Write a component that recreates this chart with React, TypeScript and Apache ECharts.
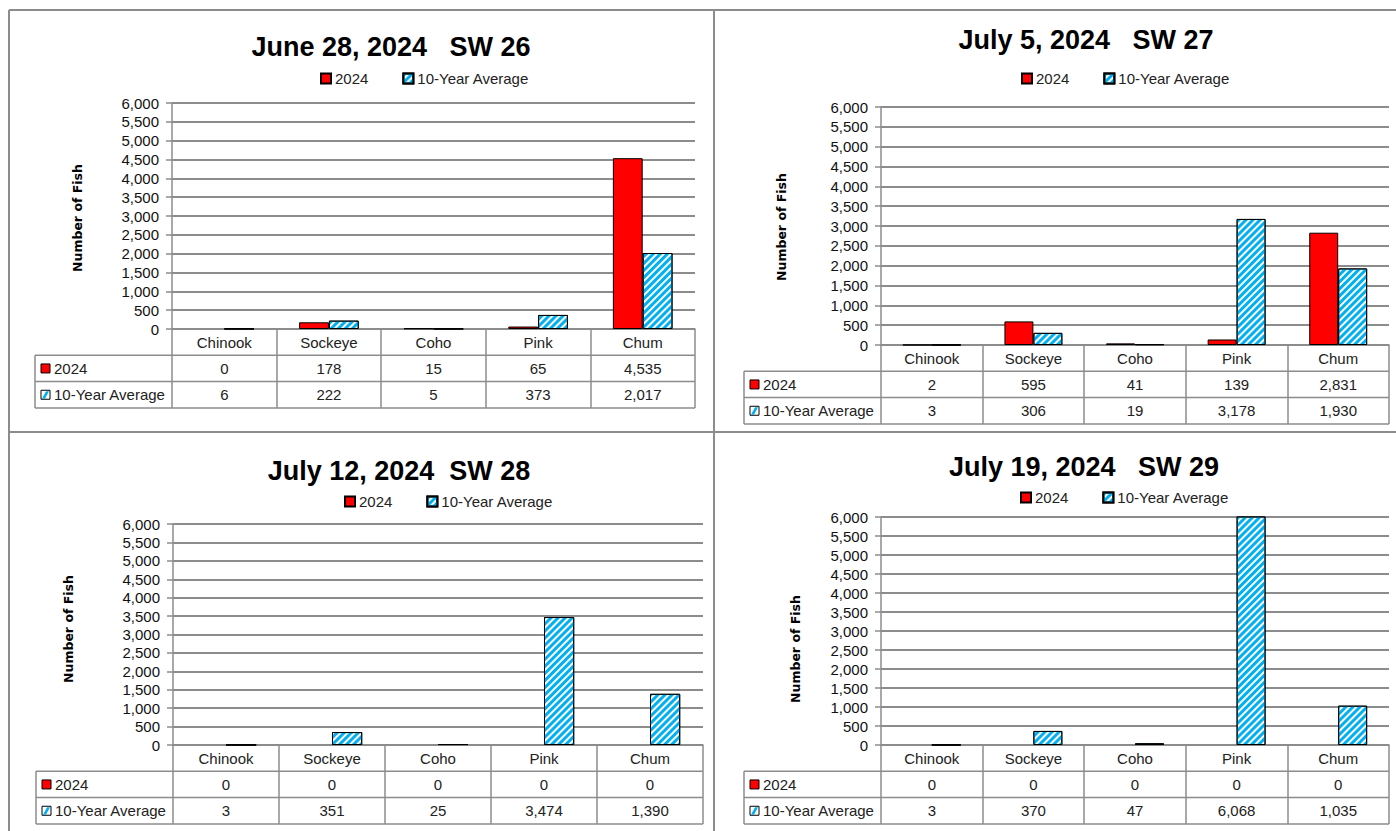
import React, { useEffect, useRef } from "react";
import * as echarts from "echarts";

const categories = ["Chinook", "Sockeye", "Coho", "Pink", "Chum"];
const seriesNames = ["2024", "10-Year Average"];
const titles = [
  "June 28, 2024   SW 26",
  "July 5, 2024   SW 27",
  "July 12, 2024  SW 28",
  "July 19, 2024   SW 29",
];
const values2024 = [
  [0, 178, 15, 65, 4535],
  [2, 595, 41, 139, 2831],
  [0, 0, 0, 0, 0],
  [0, 0, 0, 0, 0],
];
const valuesAvg = [
  [6, 222, 5, 373, 2017],
  [3, 306, 19, 3178, 1930],
  [3, 351, 25, 3474, 1390],
  [3, 370, 47, 6068, 1035],
];
const yMin = 0;
const yMax = 6000;
const yInterval = 500;
const axisTitle = "Number of Fish";

// layout (pixels)
const panels = [
  { gl: 172, gt: 103, gw: 523, gh: 226, labelX: 35, titleX: 391, titleY: 47, legendX: 320, legendY: 79, axX: 77, axY: 218 },
  { gl: 881, gt: 107, gw: 508, gh: 238, labelX: 744, titleX: 1086, titleY: 40, legendX: 1021, legendY: 79, axX: 781, axY: 227 },
  { gl: 173, gt: 524, gw: 530, gh: 221, labelX: 36, titleX: 399, titleY: 471, legendX: 344, legendY: 502, axX: 68, axY: 629 },
  { gl: 881, gt: 517, gw: 508, gh: 228, labelX: 744, titleX: 1084, titleY: 467, legendX: 1020, legendY: 498, axX: 795, axY: 649 },
];
const rowH = 26.3;
const FONT = '"Liberation Sans Narrow", "Liberation Sans", Arial, sans-serif';
const GRIDC = "#8c8c8c";
const RED = "#ff0000";
const BLUE = "#00b0f0";

const fmt = (v: number) => v.toLocaleString("en-US");

const decal = {
  symbol: "rect",
  symbolSize: 1,
  color: BLUE,
  dashArrayX: [1, 0],
  dashArrayY: [3, 2],
  rotation: -Math.PI / 4,
};

export default function App() {
  const ref = useRef<HTMLDivElement>(null);
  useEffect(() => {
    if (!ref.current) return;
    const chart = echarts.init(ref.current, null, { renderer: "svg" });

    const grids: any[] = [];
    const xAxes: any[] = [];
    const yAxes: any[] = [];
    const series: any[] = [];
    const legends: any[] = [];
    const graphics: any[] = [];

    const border = (x1: number, y1: number, x2: number, y2: number) => ({
      type: "line",
      shape: { x1, y1, x2, y2 },
      style: { stroke: GRIDC, lineWidth: 2 },
      silent: true,
    });
    graphics.push(border(9, 10, 1396, 10));
    graphics.push(border(9, 10, 9, 831));
    graphics.push(border(714, 10, 714, 831));
    graphics.push(border(9, 432, 1396, 432));

    panels.forEach((p, i) => {
      grids.push({ left: p.gl, top: p.gt, width: p.gw, height: p.gh, containLabel: false });
      const v1 = values2024[i];
      const v2 = valuesAvg[i];
      xAxes.push({
        type: "category",
        gridIndex: i,
        data: categories,
        axisLine: { show: true, lineStyle: { color: GRIDC, width: 1.5 } },
        axisTick: { show: true, interval: 0, length: rowH * 3, lineStyle: { color: GRIDC, width: 1.5 } },
        axisLabel: {
          interval: 0,
          margin: 0,
          formatter: (val: string, idx: number) =>
            `{h|${val}}\n{v|${fmt(v1[idx])}}\n{v|${fmt(v2[idx])}}`,
          rich: {
            h: { fontFamily: FONT, fontSize: 15, color: "#222", lineHeight: rowH },
            v: { fontFamily: FONT, fontSize: 15, color: "#222", lineHeight: rowH },
          },
        },
      });
      yAxes.push({
        type: "value",
        gridIndex: i,
        min: yMin,
        max: yMax,
        interval: yInterval,
        axisLine: { show: true, lineStyle: { color: GRIDC, width: 1.5 } },
        axisTick: { show: true, length: 6, lineStyle: { color: GRIDC, width: 1.5 } },
        axisLabel: {
          margin: 13,
          fontFamily: FONT,
          fontSize: 15,
          color: "#111",
          formatter: (v: number) => fmt(v),
        },
        splitLine: { show: true, lineStyle: { color: GRIDC, width: 2 } },
      });
      series.push({
        type: "bar",
        name: seriesNames[0],
        xAxisIndex: i,
        yAxisIndex: i,
        clip: true,
        barGap: "0%",
        barCategoryGap: "43%",
        itemStyle: { color: RED, borderColor: "#000", borderWidth: 1 },
        data: v1.map((v) => (v === 0 ? { value: v, itemStyle: { borderWidth: 0 } } : v)),
      });
      series.push({
        type: "bar",
        name: seriesNames[1],
        xAxisIndex: i,
        yAxisIndex: i,
        clip: true,
        barGap: "0%",
        barCategoryGap: "43%",
        itemStyle: { color: "#ffffff", borderColor: "#000", borderWidth: 1, decal },
        data: v2.map((v) => (v === 0 ? { value: v, itemStyle: { borderWidth: 0 } } : v)),
      });
      legends.push({
        left: p.legendX,
        top: p.legendY - 8,
        orient: "horizontal",
        icon: "rect",
        itemWidth: 10,
        itemHeight: 10,
        itemGap: 34,
        padding: 0,
        selectedMode: false,
        data: seriesNames,
        textStyle: { fontFamily: FONT, fontSize: 15, color: "#222", padding: [0, 0, 0, -1] },
      });

      graphics.push({
        type: "text",
        x: p.titleX,
        y: p.titleY,
        silent: true,
        style: {
          text: titles[i],
          fontFamily: FONT,
          fontWeight: "bold",
          fontSize: 27,
          fill: "#000",
          textAlign: "center",
          textVerticalAlign: "middle",
        },
      });
      graphics.push({
        type: "text",
        x: p.axX,
        y: p.axY,
        rotation: Math.PI / 2,
        silent: true,
        style: {
          text: axisTitle,
          fontFamily: '"DejaVu Sans", Verdana, sans-serif',
          fontWeight: "bold",
          fontSize: 12.5,
          fill: "#000",
          textAlign: "center",
          textVerticalAlign: "middle",
        },
      });
      const base = p.gt + p.gh;
      const right = p.gl + p.gw;
      for (let k = 1; k <= 3; k++) {
        graphics.push({
          type: "line",
          silent: true,
          shape: { x1: p.labelX, y1: base + rowH * k, x2: right, y2: base + rowH * k },
          style: { stroke: GRIDC, lineWidth: 1.5 },
        });
      }
      graphics.push({
        type: "line",
        silent: true,
        shape: { x1: p.labelX, y1: base + rowH, x2: p.labelX, y2: base + rowH * 3 },
        style: { stroke: GRIDC, lineWidth: 1.5 },
      });
      [0, 1].forEach((r) => {
        const cy = base + rowH * (r + 1.5);
        if (r === 0) {
          graphics.push({
            type: "rect",
            silent: true,
            shape: { x: p.labelX + 6, y: cy - 4.5, width: 9, height: 9 },
            style: { fill: RED, stroke: "#000", lineWidth: 1 },
          });
        } else {
          graphics.push({
            type: "rect",
            silent: true,
            shape: { x: p.labelX + 6, y: cy - 4.5, width: 9, height: 9 },
            style: { fill: "#fff", stroke: "#000", lineWidth: 1 },
          });
          graphics.push({
            type: "polygon",
            silent: true,
            shape: {
              points: [
                [p.labelX + 7, cy + 4],
                [p.labelX + 10, cy + 4],
                [p.labelX + 14, cy - 3.5],
                [p.labelX + 14, cy - 3.5],
                [p.labelX + 11, cy - 3.5],
              ],
            },
            style: { fill: BLUE },
          });
        }
        graphics.push({
          type: "text",
          silent: true,
          x: p.labelX + 19,
          y: cy,
          style: {
            text: seriesNames[r],
            fontFamily: FONT,
            fontSize: 15,
            fill: "#222",
            textAlign: "left",
            textVerticalAlign: "middle",
          },
        });
      });
    });

    chart.setOption({
      animation: false,
      backgroundColor: "#ffffff",
      grid: grids,
      xAxis: xAxes,
      yAxis: yAxes,
      series,
      legend: legends,
      graphic: graphics,
    });
    return () => chart.dispose();
  }, []);
  return (
    <div style={{ position: "absolute", left: 0, top: 0, width: 1396, height: 831, background: "#fff" }}>
      <div ref={ref} style={{ width: 1396, height: 831 }} />
    </div>
  );
}
